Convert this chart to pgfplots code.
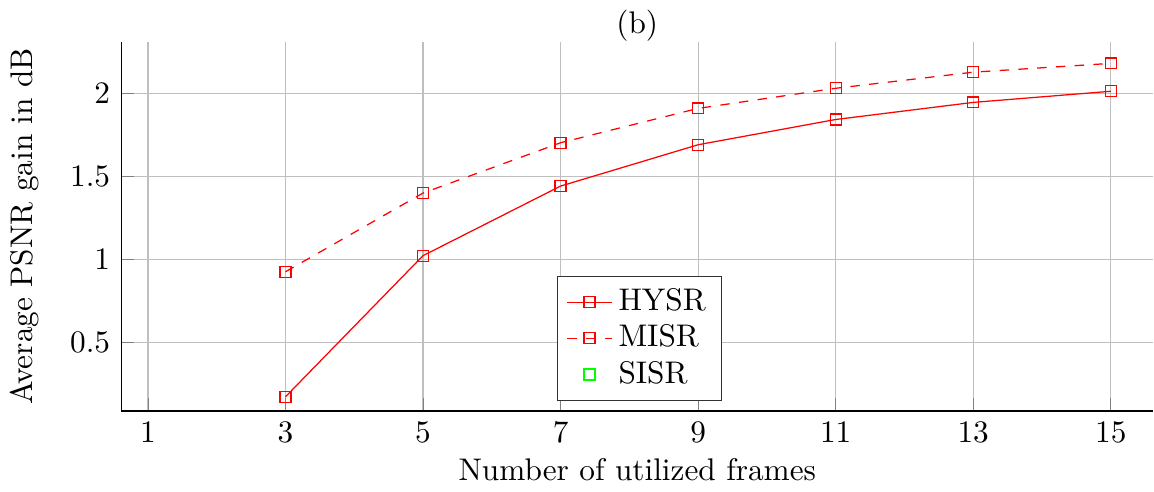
\documentclass[border=0pt]{standalone}
\usepackage{pgfplots}
\pgfplotsset{compat=1.18}
\begin{document}
\begin{tikzpicture}
\begin{axis}[
  scale only axis,
  width=330pt, height=118pt,
  xmin=0.61, xmax=15.62,
  ymin=0.087, ymax=2.31,
  axis x line*=bottom,
  axis y line*=left,
  axis line style={-},
  xtick={1,3,5,7,9,11,13,15},
  ytick={0.5,1,1.5,2},
  grid=major,
  title={(b)},
  title style={yshift=-9.5pt},
  xlabel={Number of utilized frames},
  xlabel style={yshift=1.5pt},
  ylabel={Average PSNR gain in dB},
  ylabel style={yshift=3pt},
  every axis plot/.append style={mark size=1.75pt},
  legend style={at={(0.502,0.027)}, anchor=south, draw=black!80, cells={anchor=west}, row sep=-1pt},
  legend image code/.code={\draw[mark repeat=2,mark phase=2] plot coordinates {(0cm,0cm) (0.25cm,0cm) (0.5cm,0cm)};},
]
\addplot[red, mark=square, mark options={solid}] coordinates {
  (3,0.172) (5,1.022) (7,1.441) (9,1.690) (11,1.842) (13,1.945) (15,2.012)
};
\addlegendentry{HYSR}
\addplot[red, dashed, mark=square, mark options={solid}] coordinates {
  (3,0.925) (5,1.399) (7,1.702) (9,1.909) (11,2.030) (13,2.127) (15,2.180)
};
\addlegendentry{MISR}
\addlegendimage{only marks, green, mark=square}
\addlegendentry{SISR}
\end{axis}
\end{tikzpicture}
\end{document}
